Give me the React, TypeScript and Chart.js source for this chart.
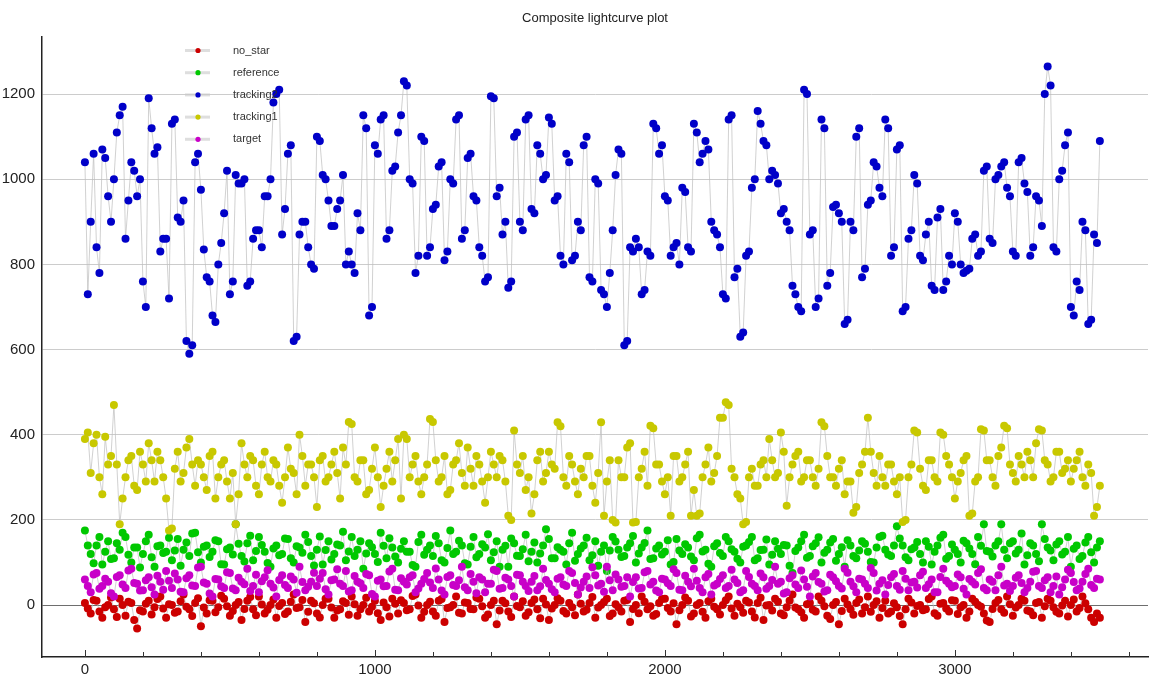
import { useRef, useEffect } from 'react';
import { Chart, registerables, Plugin } from 'chart.js';

Chart.register(...registerables);

// frame spacing of the light curve samples
const frameStep = 10;

const seriesNames = ['no_star', 'reference', 'tracking2', 'tracking1', 'target'];
const seriesColors = ['#cc0000', '#00c800', '#0000c8', '#c8c800', '#c800c8'];

const noStar = [
  5, -8, -20, 12, 10, -15, -30, -5, 0, 18,
  -10, -28, 15, 0, -25, 8, 5, -35, -55, -12,
  -15, 3, 10, -22, -5, 14, 20, -8, -30, 2,
  0, -18, -15, 9, 25, -4, -10, -26, 5, 16,
  -50, -6, -20, 11, 10, -17, -5, 22, 15, -3,
  -25, -14, 0, 7, -35, -9, 10, 19, -10, -24,
  20, 1, -20, -11, 0, 13, -30, -2, 5, -21,
  -15, 8, 25, -7, -5, 12, -40, -16, 10, 4,
  -20, -29, 0, 15, 15, -6, -30, -13, -10, 9,
  5, -23, 20, 2, -25, -10, 0, 17, -15, -4,
  10, -19, -35, 6, -5, -27, 15, 3, -20, 11,
  5, -12, -10, 21, 25, -1, -30, -16, 0, 8,
  -15, -25, 10, 14, -40, -7, -5, 0, 20, -18,
  -20, 6, 5, -9, -10, 18, 15, -3, -30, -22,
  0, 10, -45, -13, 10, 4, -15, -28, 20, -2,
  -5, 9, -25, -17, 5, 13, -10, -31, 15, 1,
  -35, -8, 0, 16, 10, -14, -20, 5, -5, -24,
  25, 3, -15, -11, 5, 19, -30, -6, 0, 7,
  15, -26, -20, 2, -5, -15, 10, 12, -40, -9,
  0, -19, 20, 8, -10, -3, -25, -21, 5, 14,
  15, -7, -15, 4, -45, -12, 0, 18, 10, -27,
  -20, 0, 5, -16, -30, 9, 15, -4, -10, -22,
  0, 11, 20, -8, -25, 3, -5, -18, 10, 6,
  -15, -29, 5, 17, -35, -1, 0, -13, 15, 8,
  -20, -24, -5, 10, 25, -6, -10, -17, -30, 2,
  5, -11, -15, 20, 10, -3, -25, -33, 0, 7,
  -45, -14, 15, 1, -10, -23, 5, 13, -20, -5,
  20, -16, 0, 9, -30, -7, 10, -20, -15, 4,
  -5, -26, -45, -10, 15, 6, -20, -2, 0, -12,
  -10, 14, 20, -19, -25, 3, 5, -8, -15, 11,
  10, -21, -5, 0, -30, -15, 15, 8, 0, -4,
  -20, -36, -40, -9, 5, 12, -10, -18, 20, 2,
  -25, -6, 0, 15, 10, -13, -15, -24, 5, 7,
  -30, -3, 15, 10, -5, -16, -20, -1, 10, -27,
  0, 13, -15, -7, 20, 4, -10, -30, -40, -20,
  -30,
];

const reference = [
  175, 140, 120, 98, 140, 160, 95, 125, 150, 108,
  110, 145, 130, 170, 160, 118, 100, 135, 135, 88,
  120, 150, 165, 112, 90, 138, 140, 122, 125, 158,
  105, 128, 155, 92, 130, 147, 115, 168, 170, 124,
  100, 137, 140, 113, 125, 152, 150, 96, 95, 131,
  135, 119, 190, 144, 115, 102, 145, 163, 105, 127,
  160, 141, 125, 99, 90, 133, 140, 117, 120, 156,
  155, 110, 100, 138, 135, 123, 165, 148, 115, 93,
  130, 161, 95, 129, 150, 107, 120, 142, 140, 172,
  105, 126, 160, 115, 130, 150, 85, 121, 145, 136,
  120, 101, 170, 139, 110, 157, 135, 114, 100, 132,
  150, 125, 125, 94, 90, 148, 165, 118, 130, 140,
  115, 162, 145, 105, 100, 134, 175, 120, 125, 151,
  140, 98, 95, 137, 160, 112, 120, 143, 135, 166,
  105, 124, 150, 90, 130, 139, 90, 156, 145, 116,
  115, 131, 165, 103, 125, 147, 100, 121, 140, 178,
  155, 110, 110, 136, 130, 125, 95, 145, 170, 104,
  120, 133, 140, 158, 105, 117, 150, 92, 125, 140,
  80, 128, 160, 149, 130, 113, 115, 135, 145, 162,
  100, 121, 135, 146, 175, 108, 110, 133, 140, 119,
  125, 152, 95, 101, 155, 128, 120, 143, 135, 114,
  105, 157, 165, 126, 130, 97, 90, 138, 145, 122,
  115, 160, 150, 131, 125, 109, 100, 137, 140, 148,
  160, 105, 110, 129, 130, 154, 95, 118, 150, 132,
  120, 141, 140, 92, 75, 127, 135, 150, 165, 111,
  115, 138, 145, 159, 100, 123, 130, 147, 155, 104,
  120, 136, 90, 152, 140, 115, 110, 128, 150, 144,
  125, 101, 100, 135, 160, 163, 130, 119, 115, 140,
  185, 156, 140, 112, 105, 131, 135, 148, 120, 100,
  150, 137, 95, 125, 140, 158, 165, 109, 115, 142,
  130, 120, 100, 151, 145, 133, 120, 96, 160, 139,
  190, 127, 125, 114, 140, 150, 190, 130, 110, 145,
  150, 121, 130, 168, 95, 117, 145, 140, 120, 103,
  190, 155, 135, 128, 105, 142, 150, 119, 125, 160,
  90, 132, 140, 108, 115, 147, 160, 124, 100, 135,
  150,
];

const tracking2 = [
  1040, 730, 900, 1060, 840, 780, 1070, 1050, 960, 900,
  1000, 1110, 1150, 1170, 860, 950, 1040, 1020, 960, 1000,
  760, 700, 1190, 1120, 1060, 1075, 830, 860, 860, 720,
  1130, 1140, 910, 900, 950, 620, 590, 610, 1040, 1060,
  975, 835, 770, 760, 680, 665, 800, 850, 920, 1020,
  730, 760, 1010, 990, 990, 1000, 750, 760, 860, 880,
  880, 840, 960, 960, 1000, 1180, 1200, 1210, 870, 930,
  1060, 1080, 620, 630, 870, 900, 900, 840, 800, 790,
  1100, 1090, 1010, 1000, 950, 890, 890, 930, 950, 1010,
  800, 830, 800, 780, 920, 880, 1150, 1120, 680, 700,
  1080, 1060, 1140, 1150, 860, 880, 1020, 1030, 1110, 1150,
  1230, 1220, 1000, 990, 780, 820, 1100, 1090, 820, 840,
  930, 940, 1030, 1040, 810, 830, 1000, 990, 1140, 1150,
  860, 880, 1050, 1060, 960, 950, 840, 820, 760, 770,
  1195, 1190, 960, 980, 870, 900, 745, 760, 1100, 1110,
  900, 880, 1140, 1150, 930, 920, 1080, 1060, 1000, 1010,
  1145, 1130, 950, 960, 820, 800, 1060, 1040, 810, 820,
  900, 880, 1080, 1100, 770, 760, 1000, 990, 740, 730,
  700, 780, 880, 1010, 1070, 1060, 610, 620, 840, 830,
  860, 840, 730, 740, 830, 820, 1130, 1120, 1060, 1080,
  960, 950, 820, 840, 850, 800, 980, 970, 840, 830,
  1130, 1110, 1040, 1060, 1090, 1070, 900, 880, 870, 840,
  730, 720, 1140, 1150, 770, 790, 630, 640, 820, 830,
  980, 1000, 1160, 1130, 1090, 1080, 1000, 1020, 1010, 990,
  920, 930, 900, 880, 750, 730, 700, 690, 1210, 1200,
  870, 880, 700, 720, 1140, 1120, 750, 780, 935, 940,
  920, 900, 660, 670, 900, 880, 1100, 1120, 770, 790,
  940, 950, 1040, 1030, 980, 960, 1140, 1120, 820, 840,
  1070, 1080, 690, 700, 860, 880, 1010, 990, 820, 810,
  870, 900, 750, 740, 910, 930, 740, 760, 820, 800,
  920, 900, 800, 780, 785, 790, 860, 870, 820, 830,
  1020, 1030, 860, 850, 1000, 1010, 1030, 1040, 980, 960,
  830, 820, 1040, 1050, 990, 970, 820, 840, 960, 950,
  890, 1200, 1265, 1220, 840, 830, 1000, 1020, 1080, 1110,
  700, 680, 760, 740, 900, 880, 660, 670, 870, 850,
  1090,
];

const tracking1 = [
  390, 405, 310, 380, 400, 300, 260, 395, 330, 350,
  470, 330, 190, 250, 300, 340, 350, 280, 270, 360,
  330, 290, 380, 340, 290, 360, 340, 300, 250, 175,
  180, 320, 360, 290, 310, 370, 390, 330, 280, 340,
  330, 300, 270, 350, 360, 250, 300, 330, 340, 290,
  250, 310, 190, 260, 380, 330, 300, 350, 340, 280,
  260, 330, 360, 300, 290, 340, 330, 280, 240, 300,
  370, 320, 310, 260, 400, 350, 280, 330, 330, 300,
  230, 340, 350, 290, 300, 330, 360, 310, 250, 370,
  330, 430, 425, 300, 290, 340, 340, 260, 270, 320,
  370, 300, 230, 280, 320, 360, 290, 340, 390, 250,
  400, 390, 300, 330, 350, 290, 260, 300, 330, 437,
  430, 340, 290, 300, 350, 260, 270, 330, 340, 380,
  310, 280, 370, 320, 280, 350, 330, 290, 240, 300,
  360, 330, 300, 350, 340, 290, 210, 200, 410, 330,
  310, 350, 270, 300, 215, 260, 340, 360, 290, 310,
  360, 330, 320, 429, 420, 300, 280, 350, 330, 290,
  260, 320, 300, 350, 350, 280, 240, 310, 429, 210,
  290, 340, 200, 194, 340, 300, 300, 370, 380, 194,
  195, 300, 320, 360, 280, 421, 415, 330, 330, 290,
  260, 300, 210, 350, 350, 290, 300, 330, 360, 210,
  270, 210, 215, 300, 330, 370, 290, 310, 350, 440,
  440, 476, 470, 320, 300, 260, 250, 190, 195, 300,
  320, 280, 280, 330, 340, 300, 390, 340, 300, 310,
  405, 360, 233, 300, 330, 350, 360, 290, 300, 340,
  340, 300, 280, 320, 429, 420, 350, 300, 300, 280,
  320, 340, 260, 290, 290, 217, 230, 310, 330, 360,
  440, 360, 310, 280, 350, 300, 280, 330, 330, 290,
  260, 300, 195, 200, 300, 330, 410, 405, 320, 280,
  270, 340, 340, 300, 290, 405, 400, 350, 330, 300,
  250, 290, 310, 340, 350, 210, 215, 290, 300, 413,
  410, 340, 340, 300, 280, 350, 370, 421, 415, 330,
  310, 290, 350, 330, 300, 360, 340, 300, 380, 413,
  410, 340, 330, 290, 300, 360, 360, 310, 320, 340,
  290, 320, 340, 360, 300, 280, 330, 310, 210, 230,
  280,
];

const target = [
  60, 45, 30, 72, 75, 38, 45, 62, 55, 28,
  20, 66, 70, 48, 40, 81, 85, 52, 50, 34,
  35, 58, 65, 42, 25, 69, 55, 36, 80, 57,
  40, 74, 60, 31, 30, 63, 70, 46, 45, 88,
  90, 53, 50, 27, 20, 61, 60, 44, 40, 77,
  75, 39, 35, 64, 55, 49, 85, 33, 45, 71,
  30, 56, 65, 82, 50, 41, 20, 59, 70, 47,
  40, 67, 60, 29, 90, 54, 35, 43, 55, 76,
  45, 62, 75, 37, 25, 58, 60, 84, 50, 45,
  80, 32, 35, 68, 55, 51, 40, 73, 70, 26,
  20, 57, 60, 44, 45, 79, 85, 36, 35, 63,
  55, 48, 65, 70, 30, 39, 50, 61, 75, 53,
  40, 86, 60, 34, 25, 66, 70, 47, 45, 58,
  90, 42, 35, 73, 55, 28, 65, 60, 30, 50,
  50, 83, 80, 38, 40, 64, 60, 45, 20, 71,
  70, 55, 45, 33, 55, 68, 35, 44, 85, 59,
  50, 37, 30, 62, 65, 48, 45, 80, 75, 52,
  25, 41, 55, 67, 40, 89, 70, 46, 50, 31,
  90, 58, 35, 72, 60, 43, 45, 65, 20, 54,
  65, 39, 40, 77, 80, 48, 55, 34, 30, 62,
  60, 51, 45, 84, 75, 36, 35, 69, 55, 44,
  85, 57, 40, 30, 65, 73, 25, 46, 50, 61,
  70, 40, 45, 83, 60, 52, 30, 35, 80, 66,
  50, 45, 35, 74, 65, 38, 45, 59, 90, 50,
  55, 27, 30, 63, 70, 48, 40, 81, 60, 43,
  20, 67, 75, 54, 50, 32, 35, 71, 65, 56,
  45, 39, 85, 76, 55, 44, 30, 62, 60, 50,
  40, 87, 75, 34, 50, 58, 25, 47, 65, 73,
  45, 36, 80, 62, 35, 53, 55, 41, 70, 78,
  40, 49, 60, 30, 30, 66, 85, 57, 50, 42,
  45, 72, 65, 38, 25, 61, 55, 48, 75, 84,
  40, 35, 60, 55, 35, 70, 90, 46, 50, 33,
  45, 64, 70, 52, 30, 40, 55, 78, 80, 45,
  40, 58, 65, 30, 45, 67, 25, 42, 60, 83,
  75, 54, 35, 39, 55, 73, 85, 47, 40, 62,
  60,
];

const seriesValues = [noStar, reference, tracking2, tracking1, target];

const yTicks = [0, 200, 400, 600, 800, 1000, 1200];
const xLabelTicks = [0, 1000, 2000, 3000];
const xMinorStep = 200;

const fontFamily = '"Liberation Sans", Arial, sans-serif';

const toPoints = (values: number[]) =>
  values.map((v, i) => ({ x: i * frameStep, y: v }));

const decorations: Plugin<'scatter'> = {
  id: 'decorations',
  afterDraw(chart) {
    const { ctx, chartArea, scales } = chart;
    const xs = scales.x;
    ctx.save();

    // title
    ctx.fillStyle = '#222';
    ctx.font = `13px ${fontFamily}`;
    ctx.textAlign = 'center';
    ctx.textBaseline = 'middle';
    ctx.fillText('Composite lightcurve plot', (chartArea.left + chartArea.right) / 2, 18);

    // inward x ticks
    ctx.strokeStyle = '#333';
    ctx.lineWidth = 1;
    for (let v = 0; v <= xs.max; v += xMinorStep) {
      const px = Math.round(xs.getPixelForValue(v)) + 0.5;
      const len = xLabelTicks.includes(v) ? 7 : 5;
      ctx.beginPath();
      ctx.moveTo(px, chartArea.bottom);
      ctx.lineTo(px, chartArea.bottom - len);
      ctx.stroke();
    }

    // legend inside the plot
    ctx.font = `11px ${fontFamily}`;
    ctx.textAlign = 'left';
    chart.data.datasets.forEach((ds, i) => {
      const y = chartArea.top + 13.5 + i * 22.2;
      const cx = chartArea.left + 156;
      ctx.strokeStyle = 'rgba(200,200,200,0.6)';
      ctx.lineWidth = 3;
      ctx.beginPath();
      ctx.moveTo(cx - 13, y);
      ctx.lineTo(cx + 12, y);
      ctx.stroke();
      ctx.fillStyle = ds.pointBackgroundColor as string;
      ctx.beginPath();
      ctx.arc(cx, y, 2.6, 0, Math.PI * 2);
      ctx.fill();
      ctx.fillStyle = '#333';
      ctx.fillText(ds.label as string, chartArea.left + 191, y);
    });
    ctx.restore();
  },
};

export default function App() {
  const chartRef = useRef<HTMLCanvasElement>(null);
  const chartInstance = useRef<Chart | null>(null);

  useEffect(() => {
    document.body.style.margin = '0';
    if (!chartRef.current) return;

    if (chartInstance.current) {
      chartInstance.current.destroy();
    }

    chartInstance.current = new Chart(chartRef.current, {
      type: 'scatter',
      data: {
        datasets: seriesNames.map((name, i) => ({
          label: name,
          data: toPoints(seriesValues[i]),
          showLine: true,
          borderColor: 'rgba(190,190,190,0.7)',
          borderWidth: 1,
          pointRadius: 4,
          pointBackgroundColor: seriesColors[i],
          pointBorderColor: seriesColors[i],
          pointBorderWidth: 0,
          order: seriesNames.length - i,
        })),
      },
      options: {
        responsive: false,
        animation: false,
        layout: { padding: { top: 37, left: 0, right: 0, bottom: 0 } },
        plugins: {
          legend: { display: false },
          title: { display: false },
          tooltip: { enabled: false },
        },
        scales: {
          x: {
            type: 'linear',
            min: -148,
            max: 3666,
            afterFit: (s) => {
              s.height = 26;
            },
            afterBuildTicks: (s) => {
              s.ticks = xLabelTicks.map((v) => ({ value: v }));
            },
            grid: { display: false, drawTicks: false },
            border: { display: true, color: '#222', width: 1.5 },
            ticks: {
              padding: 4,
              maxRotation: 0,
              color: '#222',
              font: { size: 15, family: fontFamily },
              callback: (v) => String(v),
            },
          },
          y: {
            type: 'linear',
            min: -122,
            max: 1334,
            afterFit: (s) => {
              s.width = 42;
            },
            afterBuildTicks: (s) => {
              s.ticks = yTicks.map((v) => ({ value: v }));
            },
            grid: {
              drawTicks: false,
              color: (c) => (c.tick && c.tick.value === 0 ? '#6e6e6e' : '#cccccc'),
              lineWidth: 1,
            },
            border: { display: true, color: '#222', width: 1.5 },
            ticks: {
              padding: 7,
              color: '#222',
              font: { size: 15, family: fontFamily },
              callback: (v) => String(v),
            },
          },
        },
      },
      plugins: [decorations],
    });

    return () => {
      if (chartInstance.current) {
        chartInstance.current.destroy();
        chartInstance.current = null;
      }
    };
  }, []);

  return (
    <div style={{ width: '1152px', height: '683px' }}>
      <canvas ref={chartRef} width={1152} height={683} />
    </div>
  );
}
